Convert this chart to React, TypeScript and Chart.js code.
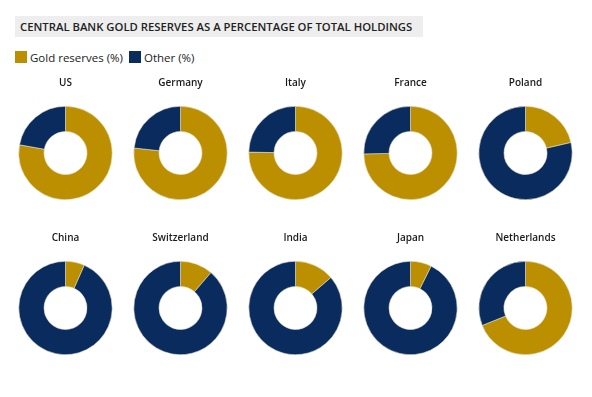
import React, { useEffect, useRef } from "react";
import { Chart, registerables } from "chart.js";

Chart.register(...registerables);

const countries = ["US", "Germany", "Italy", "France", "Poland", "China", "Switzerland", "India", "Japan", "Netherlands"];
const goldShare = [77.8, 76.7, 75.3, 74.7, 21.4, 6.6, 11.3, 13.7, 7.3, 68.9];
const otherShare = [22.2, 23.3, 24.7, 25.3, 78.6, 93.4, 88.7, 86.3, 92.7, 31.1];
const seriesLabels = ["Gold reserves (%)", "Other (%)"];

const GOLD = "#BC8F00";
const NAVY = "#0A2B5E";
const FONT = "'Open Sans', Lato, sans-serif";

function Donut({ index, left, top }: { index: number; left: number; top: number }) {
  const ref = useRef<HTMLCanvasElement | null>(null);
  useEffect(() => {
    if (!ref.current) return;
    const chart = new Chart(ref.current, {
      type: "doughnut",
      data: {
        labels: seriesLabels,
        datasets: [
          {
            data: [goldShare[index], otherShare[index]],
            backgroundColor: [GOLD, NAVY],
            borderColor: "#e8e2cc",
            borderWidth: 0.6,
          },
        ],
      },
      options: {
        animation: false,
        responsive: false,
        cutout: "46%",
        layout: { padding: 0 },
        plugins: {
          legend: { display: false },
          tooltip: { enabled: false },
          title: {
            display: true,
            text: countries[index],
            color: "#1a1a1a",
            font: { family: FONT, size: 10, weight: "600", lineHeight: 1.2 },
            padding: { top: 6, bottom: 17 },
          },
        },
      },
    });
    return () => chart.destroy();
  }, [index]);
  return (
    <canvas
      ref={ref}
      width={115}
      height={129}
      style={{ position: "absolute", left, top, width: 115, height: 129 }}
    />
  );
}

export default function App() {
  useEffect(() => {
    document.body.style.margin = "0";
  }, []);
  const colX = [65, 180, 295, 410, 525];
  const rowTop = [71, 226];
  return (
    <div style={{ position: "relative", width: 592, height: 397, background: "#fff", fontFamily: FONT, overflow: "hidden" }}>
      <div
        style={{
          position: "absolute",
          left: 15,
          top: 16,
          width: 408,
          height: 21,
          background: "#eeeeee",
          color: "#222",
          fontSize: 11.3,
          fontWeight: 600,
          lineHeight: "21px",
          paddingLeft: 5,
          boxSizing: "border-box",
          whiteSpace: "nowrap",
        }}
      >
        CENTRAL BANK GOLD RESERVES AS A PERCENTAGE OF TOTAL HOLDINGS
      </div>
      <div style={{ position: "absolute", left: 15, top: 50, display: "flex", alignItems: "center", fontSize: 11.5, color: "#222", height: 14 }}>
        <span style={{ display: "inline-block", width: 12, height: 12, background: GOLD, marginRight: 3 }} />
        <span style={{ marginRight: 6 }}>{seriesLabels[0]}</span>
        <span style={{ display: "inline-block", width: 12, height: 12, background: NAVY, marginRight: 3 }} />
        <span>{seriesLabels[1]}</span>
      </div>
      {countries.map((c, i) => (
        <Donut key={c} index={i} left={colX[i % 5] - 57.5} top={rowTop[Math.floor(i / 5)]} />
      ))}
    </div>
  );
}
